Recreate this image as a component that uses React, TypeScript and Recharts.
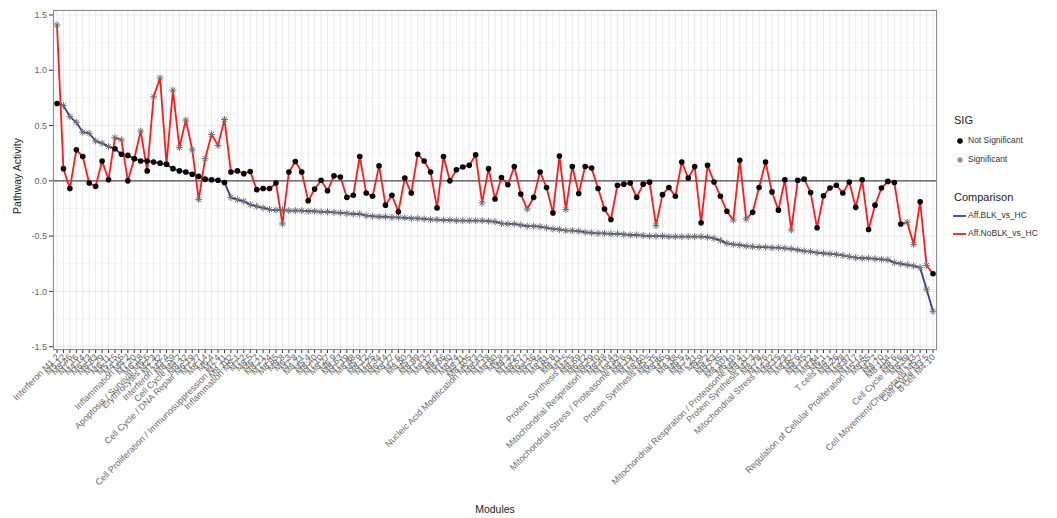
import { LineChart, Line, XAxis, YAxis, CartesianGrid, ReferenceLine } from 'recharts';

// module labels, in plot order
const modules = [
  'Interferon M1.2', 'M5.12', 'M8.46', 'M7.16', 'M4.14', 'M6.13', 'M8.83', 'M7.29', 'M6.11', 'M5.15',
  'M4.16', 'Inflammation M4.2', 'M7.20', 'M6.18', 'Apoptosis / Survival M6.6', 'Erythrocytes M2.3', 'M7.32', 'Interferon M3.4', 'M8.59', 'Cell Cycle M4.7',
  'M8.32', 'Cell Cycle / DNA Repair M6.19', 'M7.27', 'M8.14', 'M6.4', 'M7.4', 'Cell Proliferation / Immunosuppression M7.11', 'M8.102', 'Inflammation M5.1', 'M7.2',
  'M8.5', 'M6.7', 'M8.21', 'M7.24', 'M8.95', 'M8.8', 'M6.3', 'M7.8', 'M8.71', 'M5.4',
  'M8.40', 'M7.10', 'M8.27', 'M6.9', 'M8.63', 'M7.19', 'M8.88', 'M5.9', 'M8.12', 'M7.25',
  'M8.34', 'M6.14', 'M8.77', 'M7.6', 'M8.50', 'M5.3', 'M8.99', 'M7.13', 'M8.17', 'M6.2',
  'M8.66', 'M7.30', 'M8.24', 'M5.11', 'M8.105', 'Nucleic Acid Modification M5.13', 'M8.43', 'M7.18', 'M8.90', 'M6.8',
  'M8.3', 'M7.22', 'M8.57', 'M6.17', 'M8.36', 'M7.34', 'M8.81', 'M5.8', 'M8.11', 'M7.5',
  'Protein Synthesis M4.5', 'M8.69', 'M6.12', 'M8.29', 'Mitochondrial Respiration M5.10', 'M8.48', 'M7.14', 'M8.93', 'Mitochondrial Stress / Proteasome M3.6', 'M8.19',
  'M7.31', 'M8.60', 'Protein Synthesis M5.5', 'M6.15', 'M8.86', 'M7.9', 'M8.38', 'M6.5', 'M8.74', 'M7.21',
  'M8.9', 'M5.2', 'M8.53', 'M7.35', 'M8.101', 'M6.10', 'Mitochondrial Respiration / Proteasome M4.4', 'M8.31', 'Protein Synthesis M7.3', 'M8.78',
  'M7.26', 'Mitochondrial Stress M4.12', 'M8.15', 'M7.23', 'M8.62', 'M5.6', 'M8.45', 'M7.12', 'M8.84', 'M6.1',
  'T cells M4.1', 'M8.26', 'M7.28', 'M8.97', 'M7.17', 'Regulation of Cellular Proliferation M5.14', 'M8.55', 'M7.7', 'M8.70', 'M8.104',
  'M8.6', 'Cell Cycle M6.16', 'M8.39', 'M7.33', 'Cell Movement/Chemotaxis M5.7', 'Cell Cycle M3.5', 'B cell M4.10',
];

// Aff.BLK_vs_HC
const blkValues = [
  0.70, 0.68, 0.58, 0.53, 0.44, 0.43, 0.36, 0.34, 0.31, 0.29,
  0.24, 0.23, 0.20, 0.18, 0.18, 0.17, 0.16, 0.15, 0.11, 0.09,
  0.08, 0.06, 0.04, 0.015, 0.01, 0.005, -0.015, -0.15, -0.17, -0.185,
  -0.215, -0.23, -0.245, -0.26, -0.265, -0.265, -0.27, -0.27, -0.27, -0.275,
  -0.275, -0.28, -0.28, -0.285, -0.29, -0.295, -0.30, -0.30, -0.315, -0.32,
  -0.325, -0.325, -0.33, -0.33, -0.335, -0.34, -0.34, -0.345, -0.35, -0.35,
  -0.355, -0.355, -0.36, -0.36, -0.36, -0.36, -0.36, -0.365, -0.37, -0.385,
  -0.39, -0.39, -0.40, -0.41, -0.41, -0.415, -0.425, -0.435, -0.44, -0.45,
  -0.45, -0.455, -0.465, -0.47, -0.475, -0.475, -0.48, -0.48, -0.485, -0.49,
  -0.49, -0.495, -0.50, -0.50, -0.50, -0.505, -0.505, -0.505, -0.505, -0.505,
  -0.505, -0.51, -0.52, -0.54, -0.565, -0.575, -0.58, -0.59, -0.595, -0.60,
  -0.60, -0.605, -0.605, -0.61, -0.615, -0.625, -0.635, -0.64, -0.65, -0.655,
  -0.66, -0.665, -0.675, -0.685, -0.695, -0.70, -0.70, -0.705, -0.71, -0.715,
  -0.74, -0.75, -0.76, -0.77, -0.785, -0.98, -1.18,
];

// Aff.NoBLK_vs_HC
const noblkValues = [
  1.41, 0.11, -0.07, 0.28, 0.22, -0.02, -0.05, 0.18, 0.01, 0.39,
  0.37, 0.0, 0.20, 0.45, 0.09, 0.76, 0.93, 0.15, 0.82, 0.30,
  0.55, 0.28, -0.17, 0.20, 0.42, 0.32, 0.555, 0.08, 0.09, 0.065,
  0.085, -0.08, -0.07, -0.07, -0.02, -0.39, 0.08, 0.175, 0.08, -0.18,
  -0.075, 0.005, -0.09, 0.045, 0.035, -0.15, -0.13, 0.22, -0.11, -0.14,
  0.135, -0.22, -0.13, -0.28, 0.025, -0.11, 0.24, 0.18, 0.08, -0.245,
  0.22, 0.0, 0.10, 0.125, 0.14, 0.235, -0.20, 0.11, -0.165, 0.03,
  -0.035, 0.13, -0.12, -0.255, -0.15, 0.08, -0.06, -0.29, 0.225, -0.26,
  0.13, -0.115, 0.13, 0.115, -0.07, -0.255, -0.35, -0.04, -0.03, -0.02,
  -0.15, -0.03, -0.012, -0.405, -0.125, -0.06, -0.14, 0.17, 0.025, 0.13,
  -0.38, 0.14, -0.01, -0.14, -0.275, -0.355, 0.185, -0.345, -0.285, -0.06,
  0.17, -0.10, -0.265, 0.01, -0.445, 0.005, 0.015, -0.105, -0.425, -0.135,
  -0.065, -0.04, -0.11, -0.01, -0.24, 0.01, -0.44, -0.22, -0.065, -0.005,
  -0.015, -0.39, -0.375, -0.575, -0.19, -0.765, -0.84,
];

// indices of modules that are NOT significant for BLK, and significant for NoBLK
const blkNotSig = [0, 9, 10, 11, 12, 13, 14, 15, 16, 17, 18, 19, 20, 21, 22, 23, 24, 25, 26];
const noblkSig = [0, 9, 10, 13, 15, 16, 18, 19, 20, 21, 22, 23, 24, 25, 26, 35, 66, 73, 79, 93, 105, 107, 114, 132, 133, 135];

const yTicks = [-1.5, -1, -0.5, 0, 0.5, 1, 1.5];
const minorTicks = [-1.25, -0.75, -0.25, 0.25, 0.75, 1.25];

const data = modules.map((m, i) => ({
  module: m,
  blk: blkValues[i],
  noblk: noblkValues[i],
  blkSig: !blkNotSig.includes(i),
  noblkSig: noblkSig.includes(i),
}));

const Star = ({ cx, cy, r = 3.5 }: { cx: number; cy: number; r?: number }) => {
  const d = r * 0.72;
  return (
    <g stroke="#6e6e6e" strokeWidth={1}>
      <line x1={cx - r} y1={cy} x2={cx + r} y2={cy} />
      <line x1={cx} y1={cy - r} x2={cx} y2={cy + r} />
      <line x1={cx - d} y1={cy - d} x2={cx + d} y2={cy + d} />
      <line x1={cx - d} y1={cy + d} x2={cx + d} y2={cy - d} />
    </g>
  );
};

const makeDot = (sigKey: 'blkSig' | 'noblkSig') => (props: any) => {
  const { cx, cy, payload, index } = props;
  const key = `${sigKey}-${index}`;
  if (cx == null || cy == null) return <g key={key} />;
  if (payload[sigKey]) {
    return (
      <g key={key}>
        <Star cx={cx} cy={cy} />
      </g>
    );
  }
  return <circle key={key} cx={cx} cy={cy} r={2.8} fill="#000" stroke="none" />;
};

const ModuleTick = (props: any) => {
  const { x, y, payload } = props;
  return (
    <text
      x={x}
      y={y}
      dy={4}
      transform={`rotate(-45, ${x}, ${y})`}
      textAnchor="end"
      fontSize={9}
      fill="#6a6a6a"
    >
      {payload.value}
    </text>
  );
};

export default function App() {
  return (
    <div
      style={{
        position: 'absolute',
        left: 0,
        top: 0,
        width: 1057,
        height: 518,
        background: '#fff',
        fontFamily: '"Liberation Sans", Arial, sans-serif',
      }}
    >
      <LineChart width={1057} height={518} data={data} margin={{ top: 10, right: 120, bottom: 0, left: 0 }}>
        <CartesianGrid stroke="#e4e4e4" strokeWidth={0.8} />
        {minorTicks.map((t) => (
          <ReferenceLine key={t} y={t} stroke="#f1f1f1" strokeWidth={0.8} />
        ))}
        <XAxis
          dataKey="module"
          interval={0}
          tick={<ModuleTick />}
          tickSize={3}
          tickLine={{ stroke: '#333' }}
          axisLine={false}
          padding={{ left: 4, right: 4 }}
          height={168}
        />
        <YAxis
          type="number"
          domain={[-1.53, 1.545]}
          ticks={yTicks}
          allowDataOverflow
          tickFormatter={(v) => v.toFixed(1)}
          tick={{ fontSize: 9, fill: '#666' }}
          tickSize={4}
          tickLine={{ stroke: '#333' }}
          axisLine={false}
          width={53}
        />
        <ReferenceLine y={0} stroke="#4d4d4d" strokeWidth={1.3} />
        <Line
          dataKey="blk"
          stroke="#2f3c99"
          strokeWidth={1.8}
          dot={makeDot('blkSig')}
          isAnimationActive={false}
        />
        <Line
          dataKey="noblk"
          stroke="#ff1a1a"
          strokeWidth={1.8}
          dot={makeDot('noblkSig')}
          isAnimationActive={false}
        />
      </LineChart>

      <div
        style={{
          position: 'absolute',
          left: 53,
          top: 10,
          width: 884,
          height: 340,
          boxSizing: 'border-box',
          border: '1px solid #8c8c8c',
          pointerEvents: 'none',
        }}
      />

      <svg width={1057} height={518} style={{ position: 'absolute', left: 0, top: 0, pointerEvents: 'none' }}>
        <text x={18} y={176} transform="rotate(-90, 18, 176)" textAnchor="middle" dominantBaseline="middle" fontSize={10.5} fill="#222">
          Pathway Activity
        </text>
        <text x={495} y={510} textAnchor="middle" dominantBaseline="middle" fontSize={10.5} fill="#222">
          Modules
        </text>

        <text x={954} y={121} dominantBaseline="middle" fontSize={11} fill="#222">SIG</text>
        <circle cx={960} cy={141} r={2.8} fill="#000" />
        <text x={968} y={141} dominantBaseline="middle" fontSize={8.5} fill="#333">Not Significant</text>
        <Star cx={960} cy={160} r={3} />
        <text x={968} y={160} dominantBaseline="middle" fontSize={8.5} fill="#333">Significant</text>

        <text x={954} y={198} dominantBaseline="middle" fontSize={11} fill="#222">Comparison</text>
        <line x1={953} y1={216} x2={966} y2={216} stroke="#3343a3" strokeWidth={1.8} />
        <text x={968} y={216} dominantBaseline="middle" fontSize={8.5} fill="#333">Aff.BLK_vs_HC</text>
        <line x1={953} y1={234} x2={966} y2={234} stroke="#ff1a1a" strokeWidth={1.8} />
        <text x={968} y={234} dominantBaseline="middle" fontSize={8.5} fill="#333">Aff.NoBLK_vs_HC</text>
      </svg>
    </div>
  );
}
